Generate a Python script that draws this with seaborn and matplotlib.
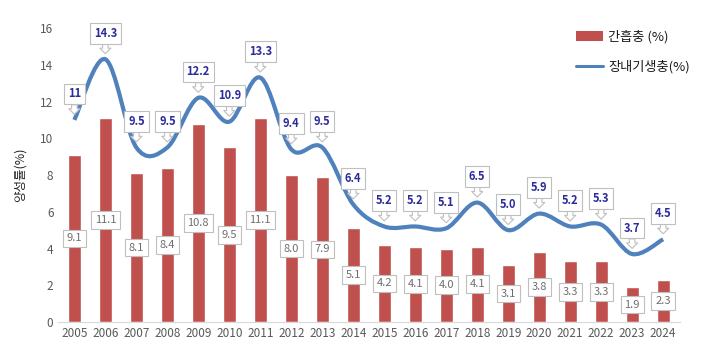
import numpy as np
import pandas as pd
import matplotlib
matplotlib.use("Agg")
import matplotlib.pyplot as plt
import seaborn as sns
from matplotlib.path import Path
from matplotlib.patches import PathPatch, Patch
from matplotlib.lines import Line2D

# Data
years = [str(y) for y in range(2005, 2025)]
clonorchis = [9.1, 11.1, 8.1, 8.4, 10.8, 9.5, 11.1, 8.0, 7.9, 5.1,
              4.2, 4.1, 4.0, 4.1, 3.1, 3.8, 3.3, 3.3, 1.9, 2.3]
intestinal = [11, 14.3, 9.5, 9.5, 12.2, 10.9, 13.3, 9.4, 9.5, 6.4,
              5.2, 5.2, 5.1, 6.5, 5.0, 5.9, 5.2, 5.3, 3.7, 4.5]
intestinal_labels = ["11"] + [f"{v:.1f}" for v in intestinal[1:]]
bar_name = "간흡충 (%)"
line_name = "장내기생충(%)"
ylabel = "양성률(%)"

sns.set_style("white")
plt.rcParams["font.family"] = ["Noto Sans CJK KR", "DejaVu Sans"]

red = "#C0504D"
blue = "#4F81BD"
gray = "#595959"

df = pd.DataFrame({"year": years, "value": clonorchis})

fig = plt.figure(figsize=(7.19, 3.56), dpi=100)
ax = fig.add_axes([0.081, 0.0955, 0.865, 0.8258])

sns.barplot(data=df, x="year", y="value", color=red, width=0.42,
            saturation=1, ax=ax)

# smoothed line (Excel style bezier through the data points)
x = np.arange(len(intestinal), dtype=float)
y = np.array(intestinal, dtype=float)
verts = [(x[0], y[0])]
codes = [Path.MOVETO]
n = len(x)
for i in range(n - 1):
    p0 = np.array([x[max(i - 1, 0)], y[max(i - 1, 0)]])
    p1 = np.array([x[i], y[i]])
    p2 = np.array([x[i + 1], y[i + 1]])
    p3 = np.array([x[min(i + 2, n - 1)], y[min(i + 2, n - 1)]])
    c1 = p1 + (p2 - p0) / 6
    c2 = p2 - (p3 - p1) / 6
    verts += [tuple(c1), tuple(c2), tuple(p2)]
    codes += [Path.CURVE4] * 3
ax.add_patch(PathPatch(Path(verts, codes), fc="none", ec=blue, lw=3,
                       capstyle="butt", zorder=3))

# bar labels
for i, v in enumerate(clonorchis):
    ax.text(i, v / 2, f"{v:.1f}", ha="center", va="center", fontsize=8,
            color="#6E6E6E", zorder=4,
            bbox=dict(boxstyle="square,pad=0.35", fc="white", ec="#BFBFBF",
                      lw=0.8))

# line labels (callouts)
for i, (v, lab) in enumerate(zip(intestinal, intestinal_labels)):
    ax.annotate(lab, xy=(i, v), xytext=(0, 14), textcoords="offset points",
                ha="center", va="bottom", fontsize=8, fontweight="bold",
                color="#2B2B9B", zorder=5,
                bbox=dict(boxstyle="square,pad=0.35", fc="white",
                          ec="#BFBFBF", lw=0.8),
                arrowprops=dict(arrowstyle="simple,head_width=1.0,head_length=0.5,tail_width=0.5",
                                fc="white", ec="#BFBFBF", lw=0.8,
                                shrinkA=0, shrinkB=4))

ax.set_xlim(-0.52, 19.55)
ax.set_ylim(0, 16)
ax.set_yticks(range(0, 17, 2))
ax.set_xlabel("")
ax.set_ylabel(ylabel, fontsize=9, color="#262626", labelpad=10)
ax.tick_params(axis="both", labelsize=8.5, colors=gray, length=0)
for s in ["top", "right", "left"]:
    ax.spines[s].set_visible(False)
ax.spines["bottom"].set_color("#D9D9D9")

handles = [Patch(fc=red, ec="none"), Line2D([], [], color=blue, lw=2.2)]
fig.legend(handles, [bar_name, line_name], loc="upper left",
           bbox_to_anchor=(0.785, 0.95), frameon=False, fontsize=9.5,
           handlelength=2.0, handleheight=0.8, handletextpad=0.4,
           labelspacing=1.3, labelcolor="#1A1A1A")

fig.savefig("out.png", dpi=100)
